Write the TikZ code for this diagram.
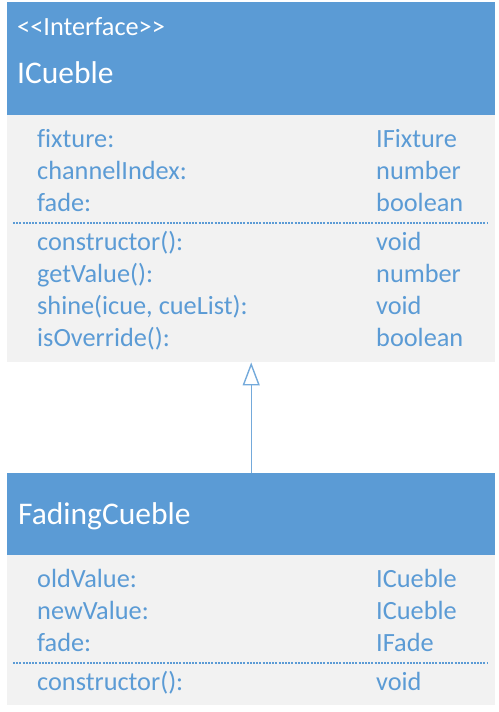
\documentclass[tikz,border=0pt]{standalone}
\usepackage{fontspec}
\setmainfont{Carlito}[Ligatures=NoCommon]
\usetikzlibrary{arrows.meta}
\definecolor{umlblue}{HTML}{5B9BD5}
\definecolor{umlgray}{HTML}{F2F2F2}
\begin{document}
\begin{tikzpicture}[x=1pt, y=-1pt,
    headbox/.style={fill=umlblue, inner sep=0, anchor=north west, minimum width=488pt},
    bodybox/.style={fill=umlgray, inner sep=0, anchor=north west, minimum width=488pt},
    member/.style={umlblue, inner sep=0, anchor=base west, font=\fontsize{26.3}{32}\selectfont},
    stereo/.style={white, inner sep=0, anchor=base west, font=\fontsize{26.3}{32}\selectfont},
    title/.style={white, inner sep=0, anchor=base west, font=\fontsize{31.5}{38}\selectfont},
    sepline/.style={umlblue, line width=1.3pt, dash pattern=on 2pt off 1.2pt},
    inherit/.style={umlblue!85, line width=1.4pt, -{Triangle[open, length=23pt, width=17pt, line width=1.4pt]}}]
    \useasboundingbox (0,0) rectangle (498,712);

    % ICueble
    \node[headbox, minimum height=113pt] (icueHead) at (7,2) {};
    \node[bodybox, minimum height=247pt] (icueBody) at (7,115) {};
    \node[stereo] (icueStereo) at (17,35) {<{}<Interface>{}>};
    \node[title] (icueName) at (17,83) {ICueble};

    \node[member] (fixture) at (37,147) {fixture:};
    \node[member] (channelIndex) at (37,179) {channelIndex:};
    \node[member] (fadeA) at (37,211) {fade:};
    \node[member] (fixtureT) at (376,147) {IFixture};
    \node[member] (channelIndexT) at (376,179) {number};
    \node[member] (fadeAT) at (376,211) {boolean};

    \draw[sepline] (13,223) -- (487,223);

    \node[member] (ctorA) at (37,250) {constructor():};
    \node[member] (getValue) at (37,282) {getValue():};
    \node[member] (shine) at (37,314) {shine(icue, cueList):};
    \node[member] (isOverride) at (37,346) {isOverride():};
    \node[member] (ctorAT) at (376,250) {void};
    \node[member] (getValueT) at (376,282) {number};
    \node[member] (shineT) at (376,314) {void};
    \node[member] (isOverrideT) at (376,346) {boolean};

    % FadingCueble
    \node[headbox, minimum height=82pt] (fadeHead) at (7,473) {};
    \node[bodybox, minimum height=150pt] (fadeBody) at (7,555) {};
    \node[title] (fadeName) at (18,524) {FadingCueble};

    \node[member] (oldValue) at (37,587) {oldValue:};
    \node[member] (newValue) at (37,619) {newValue:};
    \node[member] (fadeB) at (37,651) {fade:};
    \node[member] (oldValueT) at (376,587) {ICueble};
    \node[member] (newValueT) at (376,619) {ICueble};
    \node[member] (fadeBT) at (376,651) {IFade};

    \draw[sepline] (13,663) -- (487,663);

    \node[member] (ctorB) at (37,690) {constructor():};
    \node[member] (ctorBT) at (376,690) {void};

    \draw[inherit] (fadeHead.north) -- (icueBody.south);
\end{tikzpicture}
\end{document}
